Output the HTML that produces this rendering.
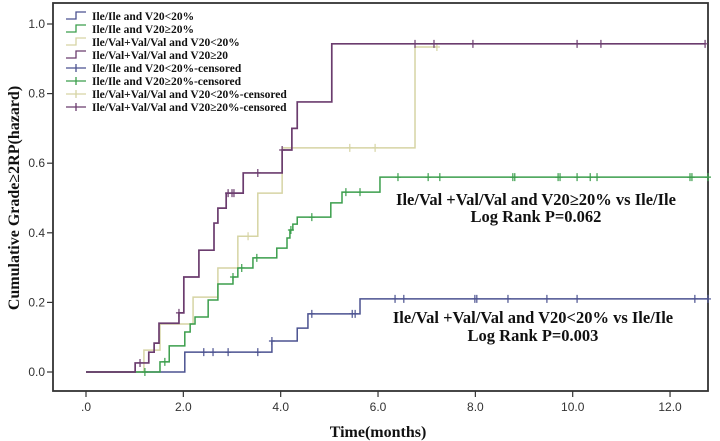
<!DOCTYPE html>
<html><head><meta charset="utf-8"><style>
html,body{margin:0;padding:0;background:#fff;}
svg{display:block;}
</style></head><body>
<svg id="chart" width="720" height="441" viewBox="0 0 720 441" xmlns="http://www.w3.org/2000/svg">
<rect x="0" y="0" width="720" height="441" fill="#fff"/>
<g id="frame"></g>
<g id="series"></g>
<g id="legend"></g>
<text x="536" y="205" text-anchor="middle" font-family="Liberation Serif, serif" font-weight="bold" font-size="16.5" fill="#111">Ile/Val +Val/Val and V20≥20% vs Ile/Ile</text>
<text x="536" y="222" text-anchor="middle" font-family="Liberation Serif, serif" font-weight="bold" font-size="16.5" fill="#111">Log Rank P=0.062</text>
<text x="533" y="323" text-anchor="middle" font-family="Liberation Serif, serif" font-weight="bold" font-size="16.5" fill="#111">Ile/Val +Val/Val and V20&lt;20% vs Ile/Ile</text>
<text x="533" y="341" text-anchor="middle" font-family="Liberation Serif, serif" font-weight="bold" font-size="16.5" fill="#111">Log Rank P=0.003</text>
<text x="378" y="437" text-anchor="middle" font-family="Liberation Serif, serif" font-weight="bold" font-size="16" fill="#111">Time(months)</text>
<text transform="translate(19,198) rotate(-90)" text-anchor="middle" font-family="Liberation Serif, serif" font-weight="bold" font-size="16" fill="#111">Cumulative Grade≥2RP(hazard)</text>
</svg>
<script>
const xTicks = [0, 2, 4, 6, 8, 10, 12];
const xTickLabels = ['.0', '2.0', '4.0', '6.0', '8.0', '10.0', '12.0'];
const yTicks = [0, 0.2, 0.4, 0.6, 0.8, 1.0];
const yTickLabels = ['0.0', '0.2', '0.4', '0.6', '0.8', '1.0'];

const blueTimes = [2.03, 3.82, 4.34, 4.56, 5.63];
const blueValues = [0.057, 0.089, 0.126, 0.167, 0.21];
const blueEnd = 12.78;
const blueCensor = [2.42, 2.61, 2.92, 3.53, 3.82, 4.64, 5.47, 5.53, 6.35, 6.53, 7.99, 8.03, 8.67, 9.47, 10.09, 12.51, 12.78];

const greenTimes = [1.52, 1.71, 2.03, 2.14, 2.24, 2.51, 2.71, 3.02, 3.12, 3.43, 3.92, 4.13, 4.19, 4.25, 4.34, 5.03, 5.26, 6.04];
const greenValues = [0.029, 0.075, 0.115, 0.138, 0.158, 0.207, 0.253, 0.273, 0.299, 0.328, 0.356, 0.385, 0.408, 0.425, 0.445, 0.486, 0.517, 0.56];
const greenEnd = 12.78;
const greenCensor = [1.21, 1.62, 3.02, 3.2, 3.51, 4.21, 4.64, 5.34, 5.63, 6.41, 7.03, 7.27, 8.77, 8.81, 9.7, 9.74, 10.09, 10.36, 10.5, 12.41, 12.45, 12.78];

const yellowTimes = [1.19, 1.52, 2.2, 2.71, 3.12, 3.53, 4.03, 6.76];
const yellowValues = [0.063, 0.138, 0.215, 0.299, 0.39, 0.514, 0.644, 0.934];
const yellowEnd = 7.21;
const yellowCensor = [3.33, 5.42, 5.94, 7.21];

const purpleTimes = [1.01, 1.29, 1.4, 1.5, 1.91, 2.01, 2.32, 2.63, 2.71, 2.88, 3.23, 4.03, 4.23, 4.34, 5.05];
const purpleValues = [0.026, 0.057, 0.083, 0.14, 0.17, 0.273, 0.35, 0.428, 0.471, 0.514, 0.572, 0.638, 0.70, 0.776, 0.943];
const purpleEnd = 12.72;
const purpleCensor = [1.11, 1.91, 2.92, 3.0, 3.04, 3.53, 4.03, 6.76, 7.15, 7.95, 10.09, 10.58, 12.72];

const legendLabels = ['Ile/Ile and V20<20%', 'Ile/Ile and V20≥20%', 'Ile/Val+Val/Val and V20<20%', 'Ile/Val+Val/Val and V20≥20',
  'Ile/Ile and V20<20%-censored', 'Ile/Ile and V20≥20%-censored', 'Ile/Val+Val/Val and V20<20%-censored', 'Ile/Val+Val/Val and V20≥20%-censored'];

const NS = 'http://www.w3.org/2000/svg';
function X(t){ return 86 + t * 48.67; }
function Y(v){ return 372 - v * 348; }
function mk(tag, attrs, parent){
  const e = document.createElementNS(NS, tag);
  for (const k in attrs) e.setAttribute(k, attrs[k]);
  parent.appendChild(e);
  return e;
}
const frame = document.getElementById('frame');
const axes = mk('rect', {x:53, y:3, width:655, height:388, fill:'none', stroke:'#333', 'stroke-width':1.8}, frame);


xTicks.forEach((t, i) => {
  const tk = mk('line', {x1:X(t), x2:X(t), y1:391, y2:397, stroke:'#333', 'stroke-width':1.2}, frame);
  
  
  const lb = mk('text', {x:X(t), y:411, 'text-anchor':'middle', 'font-family':'Liberation Sans, sans-serif', 'font-size':12, fill:'#333'}, frame);
  lb.textContent = xTickLabels[i];
  
  
});
yTicks.forEach((v, i) => {
  const tk = mk('line', {x1:47, x2:53, y1:Y(v), y2:Y(v), stroke:'#333', 'stroke-width':1.2}, frame);
  
  
  const lb = mk('text', {x:45, y:Y(v)+4, 'text-anchor':'end', 'font-family':'Liberation Sans, sans-serif', 'font-size':12, fill:'#333'}, frame);
  lb.textContent = yTickLabels[i];
  
  
});

const series = document.getElementById('series');
function drawSeries(name, times, values, end, censor, color, width){
  let d = 'M' + X(0) + ' ' + Y(0);
  for (let i = 0; i < times.length; i++){
    d += ' H' + X(times[i]) + ' V' + Y(values[i]);
  }
  d += ' H' + X(end);
  const p = mk('path', {d:d, fill:'none', stroke:color, 'stroke-width':width}, series);
  
  
  censor.forEach(t => {
    let v = 0;
    for (let i = 0; i < times.length; i++) if (times[i] <= t) v = values[i];
    const c = mk('path', {d:'M'+(X(t)-3)+' '+Y(v)+' h6 M'+X(t)+' '+(Y(v)-4)+' v8', stroke:color, 'stroke-width':1.2, fill:'none'}, series);
    
    
  });
}
drawSeries('ile-ile-v20-low', blueTimes, blueValues, blueEnd, blueCensor, '#4b5290', 1.5);
drawSeries('ile-val-v20-low', yellowTimes, yellowValues, yellowEnd, yellowCensor, '#d6d4a4', 1.5);
drawSeries('ile-ile-v20-high', greenTimes, greenValues, greenEnd, greenCensor, '#3b9e4c', 1.5);
drawSeries('ile-val-v20-high', purpleTimes, purpleValues, purpleEnd, purpleCensor, '#6b3c6e', 1.7);

const legend = document.getElementById('legend');
const legColors = ['#4b5290', '#3b9e4c', '#d6d4a4', '#6b3c6e'];
legendLabels.forEach((lab, i) => {
  const y = 16 + i * 13;
  const col = legColors[i % 4];
  let sym;
  if (i < 4) sym = mk('path', {d:'M66 '+(y+3)+' h10 v-7 h10', stroke:col, 'stroke-width':1.3, fill:'none'}, legend);
  else sym = mk('path', {d:'M66 '+y+' h20 M76 '+(y-4)+' v8', stroke:col, 'stroke-width':1.3, fill:'none'}, legend);
  
  
  const t = mk('text', {x:92, y:y+4, 'font-family':'Liberation Serif, serif', 'font-weight':'bold', 'font-size':11.5, fill:'#111'}, legend);
  t.textContent = lab;
  
  
});
</script>
</body></html>
